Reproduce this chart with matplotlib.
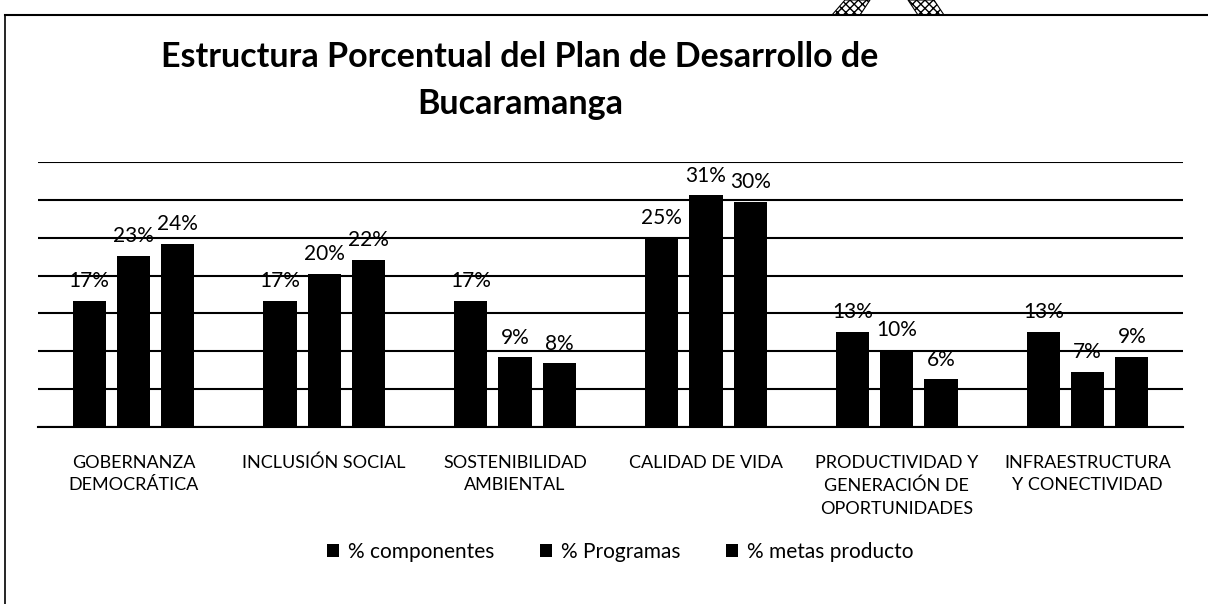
import numpy as np
import matplotlib
import matplotlib.pyplot as plt
from matplotlib.patches import Patch, Polygon
from matplotlib.lines import Line2D

matplotlib.use('agg')

plt.rcParams['font.family'] = ['Lato', 'DejaVu Sans']

categories = ['GOBERNANZA\nDEMOCRÁTICA', 'INCLUSIÓN SOCIAL', 'SOSTENIBILIDAD\nAMBIENTAL',
              'CALIDAD DE VIDA', 'PRODUCTIVIDAD Y\nGENERACIÓN DE\nOPORTUNIDADES',
              'INFRAESTRUCTURA\nY CONECTIVIDAD']
series_names = ['% componentes', '% Programas', '% metas producto']
componentes = [16.7, 16.7, 16.7, 25.0, 12.6, 12.6]
programas = [22.6, 20.2, 9.2, 30.6, 10.2, 7.3]
metas = [24.2, 22.1, 8.4, 29.7, 6.3, 9.3]

W, H = 1208, 604
fig = plt.figure(figsize=(W / 100, H / 100), dpi=100)
ax = fig.add_axes([38 / W, 1 - 427 / H, (1183 - 38) / W, (427 - 162) / H])

x = np.arange(len(categories))
bw = 0.174
step = 0.232
for i, vals in enumerate([componentes, programas, metas]):
    bars = ax.bar(x + (i - 1) * step, vals, width=bw, color='black', zorder=3)
    for b, v in zip(bars, vals):
        ax.annotate('{:.0f}%'.format(v), (b.get_x() + b.get_width() / 2, v),
                    xytext=(0, 7), textcoords='offset points',
                    ha='center', va='bottom', fontsize=15, zorder=4)

ax.set_xlim(-0.5, len(categories) - 0.5)
ax.set_ylim(0, 35)
ax.set_yticks(np.arange(0, 36, 5))
ax.yaxis.grid(True, color='black', lw=1.5, zorder=0)
ax.set_yticklabels([])
ax.tick_params(axis='y', length=0)
ax.tick_params(axis='x', length=0, pad=20)
ax.set_xticks(x)
ax.set_xticklabels(categories, fontsize=13, linespacing=1.5, va='top')
for s in ['top', 'right', 'left']:
    ax.spines[s].set_visible(False)
ax.spines['bottom'].set_linewidth(1.5)

fig.text(520 / W, 1 - 57 / H, 'Estructura Porcentual del Plan de Desarrollo de',
         ha='center', va='center', fontsize=24.5, fontweight='bold')
fig.text(520 / W, 1 - 104 / H, 'Bucaramanga',
         ha='center', va='center', fontsize=24.5, fontweight='bold')

handles = [Patch(facecolor='black') for _ in series_names]
fig.legend(handles, series_names, loc='center', bbox_to_anchor=(620 / W, 1 - 552 / H),
           ncol=3, frameon=False, fontsize=15, handlelength=0.6, handleheight=0.6,
           handletextpad=0.4, columnspacing=2.2)

# scanned page border
fig.add_artist(Line2D([5 / W, 1], [1 - 15 / H, 1 - 15 / H], color='black', lw=1.5))
fig.add_artist(Line2D([5 / W, 5 / W], [0, 1 - 15 / H], color='black', lw=1.2))

# stamp fragment at the top edge
for pts in ([(832, 15), (860, 15), (870, 0), (845, 0)],
            [(918, 15), (944, 15), (934, 0), (908, 0)]):
    fig.add_artist(Polygon([(px / W, 1 - py / H) for px, py in pts], closed=True,
                           facecolor='white', edgecolor='black', hatch='xxxx', lw=0.8))

fig.savefig('out.png', dpi=100)
